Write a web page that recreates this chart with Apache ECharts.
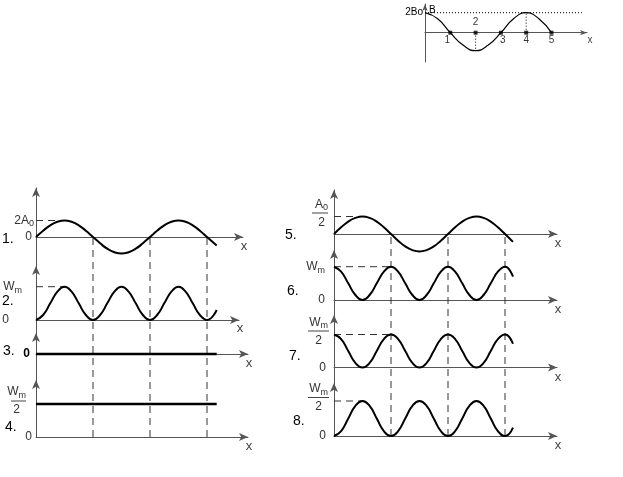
<!DOCTYPE html>
<html><head><meta charset="utf-8">
<script src="https://cdn.jsdelivr.net/npm/echarts@6/dist/echarts.min.js"></script>
<style>html,body{margin:0;padding:0;background:#fff}#c{width:623px;height:477px}</style>
</head><body><div id="c"></div>
<script>
// ---------- data ----------
const xSamples = [0,0.125,0.25,0.375,0.5,0.625,0.75,0.875,1,1.125,1.25,1.375,1.5,1.625,1.75,1.875,2,2.125,2.25,2.375,2.5,2.625,2.75,2.875,3];
const xLeft  = xSamples.concat([3.17]);
const xRight = xSamples.concat([3.14]);
const wave1   = [0,0.38,0.71,0.92,1,0.92,0.71,0.38,0,-0.38,-0.71,-0.92,-1,-0.92,-0.71,-0.38,0,0.38,0.71,0.92,1,0.92,0.71,0.38,0,-0.52];
const energy2 = [0,0.15,0.5,0.85,1,0.85,0.5,0.15,0,0.15,0.5,0.85,1,0.85,0.5,0.15,0,0.15,0.5,0.85,1,0.85,0.5,0.15,0,0.3];
const line3X = [0,3.17], line3 = [0,0];
const line4X = [0,3.17], line4 = [0.5,0.5];
const wave5   = [0,0.38,0.71,0.92,1,0.92,0.71,0.38,0,-0.38,-0.71,-0.92,-1,-0.92,-0.71,-0.38,0,0.38,0.71,0.92,1,0.92,0.71,0.38,0,-0.45];
const energy6 = [1,0.85,0.5,0.15,0,0.15,0.5,0.85,1,0.85,0.5,0.15,0,0.15,0.5,0.85,1,0.85,0.5,0.15,0,0.15,0.5,0.85,1,0.7];
const energy7 = [0.5,0.43,0.25,0.07,0,0.07,0.25,0.43,0.5,0.43,0.25,0.07,0,0.07,0.25,0.43,0.5,0.43,0.25,0.07,0,0.07,0.25,0.43,0.5,0.36];
const energy8 = [0,0.07,0.25,0.43,0.5,0.43,0.25,0.07,0,0.07,0.25,0.43,0.5,0.43,0.25,0.07,0,0.07,0.25,0.43,0.5,0.43,0.25,0.07,0,0.12];
const dashedXs = [1,2,3];            // vertical dashed guides (zero crossings)
// small graph B(x)
const xB = [0,0.5,1,1.5,2,2.5,3,3.5,4,4.5,5];
const bValues = [1,0.7,0,-0.62,-0.9,-0.62,0,0.7,1,0.7,0];
const xDots = [1,2,3,4,5];
const dotLabels = ['1','2','3','4','5'];
const panelLabels = ['1.','2.','3.','4.','5.','6.','7.','8.'];
// tick labels (rich text)
const ticks1 = {values:[0,1],   texts:['{z|0}','{n|2A}{s|0}']};
const ticks2 = {values:[0,1],   texts:['{z|0}','{n|W}{s|m}']};
const ticks3 = {values:[0],     texts:['{b|0}']};
const ticks4 = {values:[0,0.5], texts:['{z|0}','{n|W}{s|m}\n{d|2}\n{e| }']};
const ticks5 = {values:[0,1],   texts:['{z|0}','{n|A}{s|0}\n{d|2}\n{e| }']};
const ticks6 = {values:[0,1],   texts:['{z|0}','{n|W}{s|m}']};
const ticks7 = {values:[0,0.5], texts:['{z|0}','{n|W}{s|m}\n{d|2}\n{e| }']};
const ticks8 = {values:[0,0.5], texts:['{z|0}','{n|W}{s|m}\n{d|2}\n{e| }']};
const ticksB = {values:[1], texts:['{t|2Bo}']};

// ---------- layout ----------
const FONT = '"Liberation Sans", Arial, sans-serif';
const AX = '#555', TC = '#333', CURVE = '#000';
const grids = [], xAxes = [], yAxes = [], series = [], graphics = [];

function richFor(p){
  return {
    z:{fontSize:12,color:TC,fontFamily:FONT,padding:[0,p.zeroPad||0,0,0]},
    b:{fontSize:12,color:'#000',fontFamily:FONT,fontWeight:'bold',padding:[0,p.zeroPad||0,0,0]},
    n:{fontSize:12,color:TC,fontFamily:FONT,lineHeight:18},
    s:{fontSize:9,color:TC,fontFamily:FONT,lineHeight:18,padding:[8,p.sPad||0,0,0],verticalAlign:'top'},
    d:{fontSize:12,color:TC,fontFamily:FONT,lineHeight:18,align:'right',padding:[0,p.dPad||0,0,0]},
    e:{fontSize:4,lineHeight:6,color:'rgba(0,0,0,0)'},
    t:{fontSize:10,color:'#000',fontFamily:FONT}
  };
}
function addPanel(p){
  const i = grids.length;
  grids.push({left:p.x0, top:p.top, width:p.end-p.x0, height:Math.max(1,p.bottom-p.top), outerBoundsMode:'none', containLabel:false});
  const tk = p.ticks;
  xAxes.push({gridIndex:i, type:'value', min:0, max:(p.end-p.x0)/p.xu, show:p.hidden?false:true,
    axisLine:{onZero:true, lineStyle:{color:AX,width:1}, symbol:['none','arrow'], symbolSize:p.arrow||[6,9]},
    axisTick:{show:false}, axisLabel:{show:false}, splitLine:{show:false},
    name:p.hidden?'':'x', nameLocation:'end', nameGap:p.nameGap||1,
    nameTextStyle:{color:'#444', fontSize:p.nameSize||13, fontFamily:FONT, align:'center', verticalAlign:'top', padding:[p.namePad||3,0,0,0]}});
  yAxes.push({gridIndex:i, type:'value', min:-(p.bottom-p.zero)/p.yu, max:(p.zero-p.top)/p.yu, show:p.hidden?false:true,
    axisLine:{onZero:false, lineStyle:{color:AX,width:1}, symbol:['none','arrow'], symbolSize:p.arrow||[6,9]},
    axisTick:{show:false}, splitLine:{show:false},
    name:p.yName||'', nameLocation:'end', nameGap:p.yNameGap||0,
    nameTextStyle:{color:'#000', fontSize:10, fontFamily:FONT, align:'left', verticalAlign:'middle', padding:[0,0,0,4]},
    axisLabel:{show:!!tk, customValues:tk?tk.values:[], margin:p.margin||2, rich:richFor(p),
      formatter:function(v){ if(!tk) return ''; for(let k=0;k<tk.values.length;k++){ if(Math.abs(tk.values[k]-v)<1e-6) return tk.texts[k]; } return ''; }}});
  return i;
}
function pairs(xs, ys){ return xs.map((x,k)=>[x,ys[k]]); }
function curve(i, xs, ys, w){
  series.push({type:'line', xAxisIndex:i, yAxisIndex:i, data:pairs(xs,ys), smooth:true, showSymbol:false, clip:false,
    lineStyle:{color:CURVE,width:w||2}, silent:true, z:5});
}
function dashed(i, pts, type, color){
  series.push({type:'line', xAxisIndex:i, yAxisIndex:i, data:pts, showSymbol:false, clip:false,
    lineStyle:{color:color||'#333',width:1,type:type||[7,5]}, silent:true, z:3});
}

const XL = 36, XR = 334, XU = 57;
const P1 = addPanel({x0:XL, xu:XU, end:243, top:188, zero:237, bottom:266, yu:16.5, ticks:ticks1, margin:2, zeroPad:2});
const P2 = addPanel({x0:XL, xu:XU, end:239, top:266, zero:320, bottom:333, yu:33.3, ticks:ticks2, margin:14, zeroPad:13, namePad:2});
const P3 = addPanel({x0:XL, xu:XU, end:248, top:333, zero:354, bottom:380, yu:33, ticks:ticks3, margin:6});
const P4 = addPanel({x0:XL, xu:XU, end:248, top:380, zero:437, bottom:437, yu:66, ticks:ticks4, margin:4, sPad:6, dPad:12});
const P5 = addPanel({x0:XR, xu:XU, end:557, top:190, zero:234, bottom:250, yu:17.5, ticks:ticks5, margin:6, zeroPad:3, dPad:3});
const P6 = addPanel({x0:XR, xu:XU, end:557, top:250, zero:300, bottom:315, yu:33.3, ticks:ticks6, margin:9});
const P7 = addPanel({x0:XR, xu:XU, end:557, top:315, zero:367.5, bottom:383, yu:66, ticks:ticks7, margin:6, zeroPad:2, dPad:6});
const P8 = addPanel({x0:XR, xu:XU, end:557, top:383, zero:436, bottom:436, yu:70, ticks:ticks8, margin:6, zeroPad:2, dPad:6});
// overlays for the vertical dashed guides
const OL = addPanel({x0:XL, xu:XU, end:243, top:237, zero:437, bottom:437, yu:200, hidden:true});
const OR = addPanel({x0:XR, xu:XU, end:557, top:234, zero:436, bottom:436, yu:202, hidden:true});
// small top graph
const PB = addPanel({x0:425, xu:25.3, end:587, top:4, zero:32.7, bottom:62, yu:20, ticks:ticksB, margin:2,
  nameSize:10, namePad:0, nameGap:3, arrow:[4,7], yName:'B', yNameGap:-6});

curve(P1, xLeft, wave1);
curve(P2, xLeft, energy2);
curve(P3, line3X, line3, 2.5);
curve(P4, line4X, line4, 2.5);
curve(P5, xRight, wave5);
curve(P6, xRight, energy6);
curve(P7, xRight, energy7);
curve(P8, xRight, energy8);
curve(PB, xB, bValues, 1.2);

dashed(P1, [[0,1],[0.45,1]]);
dashed(P2, [[0,1],[0.5,1]]);
dashed(P5, [[0,1],[0.5,1]]);
dashed(P6, [[0,1],[1,1]]);
dashed(P7, [[0,0.5],[1,0.5]]);
dashed(P8, [[0,0.5],[0.5,0.5]]);
dashedXs.forEach(x=>{ dashed(OL, [[x,0],[x,1]]); dashed(OR, [[x,0],[x,1]]); });
// dotted guides in small graph
dashed(PB, [[0,1],[6.2,1]], [1,2], '#000');
dashed(PB, [[2,0],[2,-0.9]], [1,2], '#000');
dashed(PB, [[4,0],[4,1]], [1,2], '#000');
series.push({type:'scatter', xAxisIndex:PB, yAxisIndex:PB, symbol:'rect', symbolSize:4, itemStyle:{color:'#000'}, z:6, silent:true,
  data:xDots.map((x,k)=>({value:[x,0], label:{show:true, formatter:dotLabels[k], position:k===1?'top':'bottom', distance:k===1?3:1,
    offset:k===0?[-3,0]:(k===2?[2,0]:[0,0]), fontSize:10, color:'#000', fontFamily:FONT}}))});

// panel number labels
const labelPos = [[2,240],[2,302],[3,352],[5,428],[285,236],[287,292],[289,357],[293,422]];
panelLabels.forEach((t,k)=>{
  graphics.push({type:'text', left:labelPos[k][0], top:labelPos[k][1]-8, style:{text:t, font:'14px '+FONT, fill:'#000'}});
});
// fraction bars
[[11,26,401],[312,328,213],[308,329,331],[308,329,397.5]].forEach(b=>{
  graphics.push({type:'line', shape:{x1:b[0],y1:b[2],x2:b[1],y2:b[2]}, style:{stroke:'#444',lineWidth:1}});
});

const chart = echarts.init(document.getElementById('c'));
chart.setOption({animation:false, backgroundColor:'#fff', grid:grids, xAxis:xAxes, yAxis:yAxes, series:series, graphic:graphics});
</script></body></html>
